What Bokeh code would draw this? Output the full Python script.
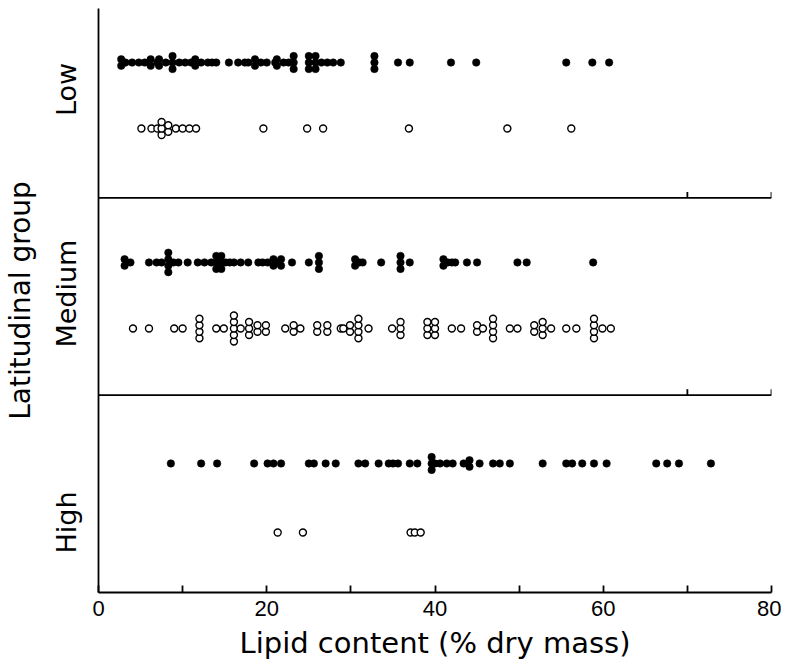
import math
from collections import Counter
from bokeh.plotting import figure
from bokeh.models import FixedTicker, Span, ColumnDataSource
from bokeh.embed import file_html
from bokeh.resources import INLINE

# ---------------- data ----------------
groups = ["High", "Medium", "Low"]
x_ticks = [0, 10, 20, 30, 40, 50, 60, 70, 80]
x_tick_labels = ["0", "", "20", "", "40", "", "60", "", "80"]
separator_ticks = [70, 80]

low_filled = [2.7, 2.7, 3.0, 3.2, 4.0, 4.8, 5.5, 6.2, 6.2, 7.0, 7.2, 7.2, 8.0, 8.8, 8.8,
              8.8, 9.6, 10.3, 11.0, 11.5, 11.5, 12.2, 13.0, 13.5, 14.0, 15.5, 16.6, 17.4,
              17.8, 18.6, 18.6, 19.3, 20.0, 21.0, 21.2, 21.2, 22.0, 22.6, 23.2, 23.2, 23.2,
              25.0, 25.0, 25.0, 25.8, 25.8, 25.8, 26.5, 27.2, 27.9, 28.8, 32.8, 32.8, 32.8,
              35.6, 37.0, 41.9, 44.9, 55.6, 58.7, 60.7]
low_open = [5.1, 6.3, 7.0, 7.5, 7.5, 7.5, 8.3, 8.3, 9.2, 10.0, 10.8, 11.6,
            19.6, 24.8, 26.7, 36.9, 48.6, 56.2]

medium_filled = [3.1, 3.1, 3.8, 6.0, 6.9, 7.5, 8.3, 8.3, 8.3, 8.3, 8.9, 9.5, 10.6, 11.8,
                 12.6, 13.4, 14.0, 14.0, 14.0, 14.6, 14.6, 14.6, 15.1, 15.6, 16.1, 16.9,
                 17.8, 19.0, 19.5, 20.1, 20.8, 20.8, 21.2, 21.7, 21.7, 23.0, 25.0, 26.2,
                 26.2, 26.2, 30.5, 30.5, 31.0, 31.4, 33.6, 35.9, 35.9, 35.9, 37.0, 41.0,
                 41.0, 41.5, 42.0, 42.4, 43.8, 45.0, 49.8, 50.9, 58.8]
medium_open = [4.1, 6.0, 9.0, 10.0, 12.0, 12.0, 12.0, 12.0, 14.0, 14.9, 16.1, 16.1, 16.1,
               16.1, 16.1, 16.9, 17.9, 17.9, 17.9, 18.9, 18.9, 19.9, 19.9, 22.2, 23.2,
               23.2, 24.0, 26.0, 26.0, 27.2, 27.2, 28.8, 29.1, 29.9, 29.9, 30.9, 30.9,
               30.9, 30.9, 32.1, 34.9, 35.9, 35.9, 35.9, 39.1, 39.1, 39.1, 40.0, 40.0,
               40.0, 42.0, 43.1, 45.0, 45.0, 45.7, 46.9, 46.9, 46.9, 46.9, 48.9, 49.8,
               51.8, 51.8, 52.8, 52.8, 52.8, 53.8, 55.6, 56.8, 58.9, 58.9, 58.9, 58.9,
               59.9, 60.9]

high_filled = [8.6, 12.2, 14.1, 18.5, 20.1, 20.8, 21.7, 25.0, 25.6, 27.0, 28.2, 30.9,
               31.7, 33.3, 34.5, 35.0, 35.6, 37.0, 37.9, 39.6, 39.6, 39.6, 40.0, 40.6,
               41.4, 42.1, 43.4, 44.1, 44.1, 45.3, 46.9, 47.7, 48.9, 52.8, 55.6, 56.3,
               57.5, 58.9, 60.4, 66.3, 67.6, 69.0, 72.8]
high_open = [21.3, 24.3, 37.1, 37.6, 38.3]

series = {
    ("Low", "filled"): low_filled, ("Low", "open"): low_open,
    ("Medium", "filled"): medium_filled, ("Medium", "open"): medium_open,
    ("High", "filled"): high_filled, ("High", "open"): high_open,
}

# ---------------- layout constants ----------------
PX = 197.3                     # pixels per panel unit
row_center = {
    ("Low", "filled"): 2.686, ("Low", "open"): 2.352,
    ("Medium", "filled"): 1.673, ("Medium", "open"): 1.338,
    ("High", "filled"): 0.654, ("High", "open"): 0.304,
}
label_pos = {"High": 0.355, "Medium": 1.515, "Low": 2.55}
STEP = 6.5 / PX
TICK_FONT = "Liberation Sans"
LABEL_FONT = "DejaVu Sans"


def stack(values, yc):
    xs, ys = [], []
    counts = Counter(values)
    for v, n in sorted(counts.items()):
        for i in range(n):
            xs.append(v)
            ys.append(yc + (i - (n - 1) / 2) * STEP)
    return xs, ys


p = figure(frame_width=673, frame_height=584, x_range=(0, 80), y_range=(0, 2.96),
           output_backend="svg", toolbar_location=None,
           min_border_left=89, min_border_right=10, min_border_top=8,
           min_border_bottom=60)
p.outline_line_color = None
p.grid.visible = False
p.background_fill_color = "white"

for (g, kind), vals in series.items():
    xs, ys = stack(vals, row_center[(g, kind)])
    src = ColumnDataSource(dict(x=xs, y=ys))
    if kind == "filled":
        p.scatter("x", "y", source=src, size=7.5, fill_color="black",
                  line_color="black", line_width=0.5)
    else:
        p.scatter("x", "y", source=src, size=7, fill_color="white",
                  line_color="black", line_width=1.4)

# panel separators
for yb in (1, 2):
    p.add_layout(Span(location=yb, dimension="width", line_color="black",
                      line_width=1.8))
    p.segment(x0=separator_ticks, x1=separator_ticks,
              y0=[yb] * len(separator_ticks),
              y1=[yb + 6 / PX] * len(separator_ticks),
              line_color="black", line_width=1.8)

# x axis
xa = p.xaxis[0]
xa.ticker = FixedTicker(ticks=x_ticks)
xa.major_label_overrides = {t: lab for t, lab in zip(x_ticks, x_tick_labels)}
xa.minor_tick_line_color = None
xa.major_tick_in = 7
xa.major_tick_out = 0
xa.major_tick_line_width = 1.8
xa.axis_line_width = 1.8
xa.axis_line_color = "black"
xa.major_tick_line_color = "black"
xa.major_label_text_font = TICK_FONT
xa.major_label_text_font_size = "22px"
xa.major_label_text_color = "black"
xa.major_label_standoff = 8
xa.axis_label = "Lipid content (% dry mass)"
xa.axis_label_text_font = LABEL_FONT
xa.axis_label_text_font_size = "29px"
xa.axis_label_text_font_style = "normal"
xa.axis_label_text_color = "black"
xa.axis_label_standoff = 7

# y axis
ya = p.yaxis[0]
ya.ticker = FixedTicker(ticks=[label_pos[g] for g in groups])
ya.major_label_overrides = {label_pos[g]: g for g in groups}
ya.major_label_orientation = "parallel"
ya.major_tick_line_color = None
ya.minor_tick_line_color = None
ya.axis_line_width = 1.8
ya.axis_line_color = "black"
ya.major_label_text_font = LABEL_FONT
ya.major_label_text_font_size = "27px"
ya.major_label_text_color = "black"
ya.major_label_standoff = 10
ya.axis_label = "Latitudinal group"
ya.axis_label_text_font = LABEL_FONT
ya.axis_label_text_font_size = "28px"
ya.axis_label_text_font_style = "normal"
ya.axis_label_text_color = "black"
ya.axis_label_standoff = 12

open("out.html", "w").write(file_html(p, INLINE))
